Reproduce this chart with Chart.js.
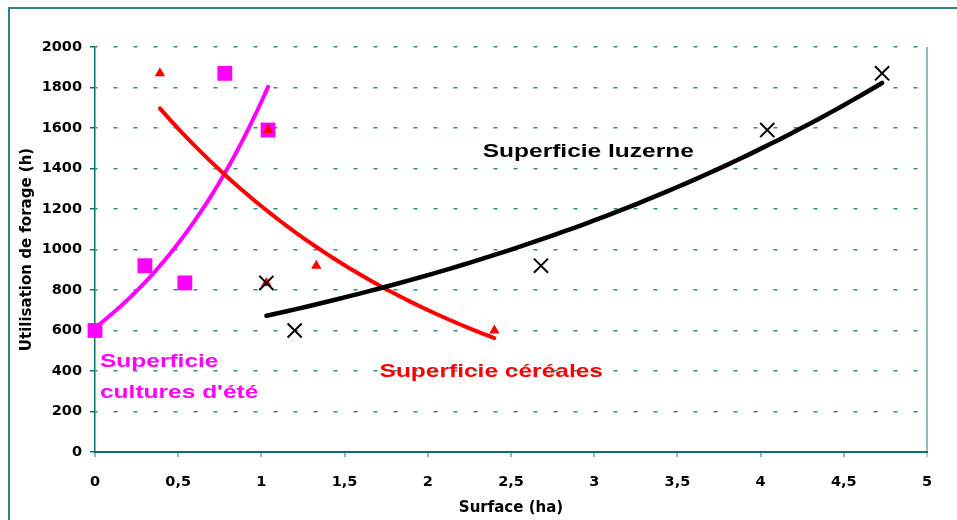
<!DOCTYPE html>
<html>
<head>
<meta charset="utf-8">
<script src="https://cdn.jsdelivr.net/npm/chart.js@4/dist/chart.umd.min.js"></script>
<style>
	html, body { margin: 0; padding: 0; background: #fff; }
	canvas { display: block; }
</style>
</head>
<body>
<canvas id="forage-chart" width="957" height="520"></canvas>
<script>
// surface (ha) / utilisation de forage (h)
const cultureEteX = [0, 0.3, 0.54, 0.78, 1.04];
const cultureEteY = [600, 920, 835, 1870, 1590];
const cerealesX = [0.39, 1.04, 1.03, 1.33, 2.4];
const cerealesY = [1870, 1590, 835, 920, 600];
const luzerneX = [1.03, 1.2, 2.68, 4.04, 4.73];
const luzerneY = [835, 600, 920, 1590, 1870];

const xTicks = [0, 0.5, 1, 1.5, 2, 2.5, 3, 3.5, 4, 4.5, 5];
const yTicks = [0, 200, 400, 600, 800, 1000, 1200, 1400, 1600, 1800, 2000];

const labelLuzerne = ['Superficie luzerne'];
const labelCereales = ['Superficie céréales'];
const labelCultureEte = ['Superficie', "cultures d'été"];

(function () {
	const $chart = document.getElementById('forage-chart');

	Chart.defaults.font.family = '"DejaVu Sans", sans-serif';

	const toPoints = (xs, ys) => xs.map((x, i) => ({ x: x, y: ys[i] }));

	// exponential trendline like the spreadsheet one (least squares on ln y)
	function expTrend(xs, ys) {
		const n = xs.length;
		const ly = ys.map(v => Math.log(v));
		const mx = xs.reduce((a, b) => a + b, 0) / n;
		const my = ly.reduce((a, b) => a + b, 0) / n;
		let sxy = 0, sxx = 0;
		for (let i = 0; i < n; i++) {
			sxy += (xs[i] - mx) * (ly[i] - my);
			sxx += (xs[i] - mx) * (xs[i] - mx);
		}
		const b = sxy / sxx;
		const a = Math.exp(my - b * mx);
		const lo = Math.min(...xs), hi = Math.max(...xs);
		const pts = [];
		for (let i = 0; i <= 60; i++) {
			const x = lo + (hi - lo) * i / 60;
			pts.push({ x: x, y: a * Math.exp(b * x) });
		}
		return pts;
	}

	const teal = '#2f8c8c';
	const axisTeal = '#0d6e6e';
	const tickFont = { family: '"DejaVu Sans", sans-serif', size: 14.5, weight: 'bold' };
	const titleFont = { family: '"DejaVu Sans", sans-serif', size: 15, weight: 'bold' };

	const frame = {
		id: 'frame',
		beforeDraw(chart) {
			const ctx = chart.ctx;
			ctx.save();
			ctx.strokeStyle = '#2a8585';
			ctx.lineWidth = 2;
			ctx.strokeRect(9, 8, 1400, 1400);
			ctx.restore();
		}
	};

	const labels = {
		id: 'labels',
		afterDatasetsDraw(chart) {
			const ctx = chart.ctx;
			const xs = chart.scales.x, ys = chart.scales.y;
			const put = (lines, xv, yv, color) => {
				lines.forEach((t, i) => {
					ctx.save();
					ctx.translate(xs.getPixelForValue(xv), ys.getPixelForValue(yv) + i * 31);
					ctx.scale(1.29, 1);
					ctx.font = 'bold 19px "Liberation Sans", Arial, sans-serif';
					ctx.fillStyle = color;
					ctx.textAlign = 'left';
					ctx.textBaseline = 'middle';
					ctx.fillText(t, 0, 0);
					ctx.restore();
				});
			};
			put(labelLuzerne, 2.33, 1481, '#000000');
			put(labelCereales, 1.71, 395, '#ff0000');
			put(labelCultureEte, 0.03, 444, '#ff00ff');
		}
	};

	const data = {
		datasets: [
			{
				label: 'Superficie luzerne',
				data: toPoints(luzerneX, luzerneY),
				pointStyle: 'crossRot',
				pointRadius: 10,
				borderColor: '#000000',
				borderWidth: 2,
				showLine: false,
				clip: false,
				order: 0,
			},
			{
				label: 'Superficie céréales',
				data: toPoints(cerealesX, cerealesY),
				pointStyle: 'triangle',
				pointRadius: 6,
				backgroundColor: '#ff0000',
				borderColor: '#ff0000',
				borderWidth: 0,
				showLine: false,
				clip: false,
				order: 1,
			},
			{
				label: "Superficie cultures d'été",
				data: toPoints(cultureEteX, cultureEteY),
				pointStyle: 'rect',
				pointRadius: 10.5,
				backgroundColor: '#ff00ff',
				borderColor: '#ff00ff',
				borderWidth: 0,
				showLine: false,
				clip: false,
				order: 2,
			},
			{
				data: expTrend(luzerneX, luzerneY),
				showLine: true,
				pointRadius: 0,
				borderColor: '#000000',
				borderWidth: 4.5,
				borderCapStyle: 'round',
				clip: false,
				order: 3,
			},
			{
				data: expTrend(cerealesX, cerealesY),
				showLine: true,
				pointRadius: 0,
				borderColor: '#ff0000',
				borderWidth: 4,
				borderCapStyle: 'round',
				clip: false,
				order: 4,
			},
			{
				data: expTrend(cultureEteX, cultureEteY),
				showLine: true,
				pointRadius: 0,
				borderColor: '#ff00ff',
				borderWidth: 4,
				borderCapStyle: 'round',
				clip: false,
				order: 5,
			},
		],
	};

	const config = {
		type: 'scatter',
		data: data,
		plugins: [frame, labels],
		options: {
			responsive: false,
			animation: false,
			layout: { padding: { left: 0, right: 30, top: 47, bottom: 0 } },
			plugins: {
				legend: { display: false },
				tooltip: { enabled: false },
			},
			scales: {
				x: {
					type: 'linear',
					min: 0,
					max: 5,
					afterFit(scale) { scale.height = 68; },
					afterBuildTicks(scale) { scale.ticks = xTicks.map(v => ({ value: v })); },
					ticks: {
						callback: v => String(v).replace('.', ','),
						font: tickFont,
						color: '#000',
						padding: 17,
						maxRotation: 0,
						autoSkip: false,
					},
					title: {
						display: true,
						text: 'Surface (ha)',
						font: titleFont,
						color: '#000',
						padding: { top: 0, bottom: 3 },
					},
					grid: {
						color: c => (c.tick && c.tick.value === 5 ? '#8ebfbf' : 'transparent'),
						lineWidth: 2,
						tickLength: 5,
						tickColor: c => (c.tick && c.tick.value === 5 ? '#8ebfbf' : '#5fa6a6'),
						tickWidth: 1.5,
					},
					border: { color: axisTeal, width: 2 },
				},
				y: {
					min: 0,
					max: 2000,
					afterFit(scale) { scale.width = 95; },
					afterBuildTicks(scale) { scale.ticks = yTicks.map(v => ({ value: v })); },
					ticks: {
						callback: v => String(v),
						font: tickFont,
						color: '#000',
						padding: 8,
						autoSkip: false,
					},
					title: {
						display: true,
						text: 'Utilisation de forage (h)',
						font: titleFont,
						color: '#000',
						padding: { top: 18, bottom: 0 },
					},
					grid: {
						color: c => (c.tick && c.tick.value === 0 ? 'transparent' : teal),
						lineWidth: 1.5,
						tickLength: 5,
						tickColor: axisTeal,
						tickWidth: 1.5,
					},
					border: { color: axisTeal, width: 1.5, dash: [4, 16], dashOffset: 2 },
				},
			},
		},
	};

	const myChart = new Chart($chart, config);
})();
</script>
</body>
</html>
